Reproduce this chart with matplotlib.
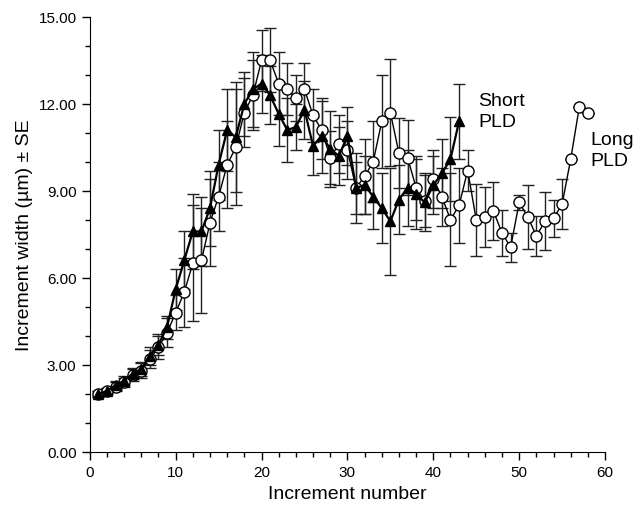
import numpy as np
import matplotlib.pyplot as plt
from matplotlib.ticker import MultipleLocator, FormatStrFormatter

plt.rcParams['font.family'] = ['Liberation Sans', 'DejaVu Sans']

# Short PLD (filled triangles), increments 1-43
x_short = np.arange(1, 44)
short_w = [2.0, 2.1, 2.3, 2.45, 2.7, 2.85, 3.3, 3.7, 4.3, 5.6,
           6.6, 7.6, 7.6, 8.4, 9.9, 11.1, 10.85, 12.0, 12.5, 12.7,
           12.3, 11.65, 11.1, 11.2, 11.8, 10.55, 10.9, 10.45, 10.2, 10.9,
           9.1, 9.2, 8.8, 8.4, 7.95, 8.7, 9.1, 8.9, 8.6, 9.2,
           9.6, 10.1, 11.4]
short_se = [0.1, 0.1, 0.15, 0.15, 0.2, 0.25, 0.3, 0.35, 0.4, 0.7,
            1.0, 1.3, 1.2, 1.3, 1.2, 1.4, 1.9, 1.1, 1.3, 1.0,
            1.0, 1.1, 1.1, 0.8, 1.0, 1.0, 1.3, 1.3, 1.0, 1.0,
            0.9, 1.0, 1.1, 1.2, 1.85, 1.2, 1.3, 1.2, 1.0, 1.0,
            1.2, 1.45, 1.3]

# Long PLD (open circles), increments 1-58
x_long = np.arange(1, 59)
long_w = [2.0, 2.1, 2.25, 2.4, 2.65, 2.8, 3.2, 3.6, 4.1, 4.8,
          5.5, 6.5, 6.6, 7.9, 8.8, 9.9, 10.5, 11.7, 12.3, 13.5,
          13.5, 12.7, 12.5, 12.2, 12.5, 11.6, 11.1, 10.15, 10.6, 10.4,
          9.1, 9.5, 10.0, 11.4, 11.7, 10.3, 10.15, 9.1, 8.65, 9.4,
          8.8, 8.0, 8.5, 9.7, 8.0, 8.1, 8.3, 7.55, 7.05, 8.6,
          8.1, 7.45, 7.95, 8.05, 8.55, 10.1, 11.9, 11.7]
long_se = [0.1, 0.1, 0.15, 0.15, 0.2, 0.25, 0.3, 0.4, 0.5, 0.6,
           1.2, 2.0, 1.8, 1.5, 1.2, 1.5, 2.0, 1.2, 1.2, 1.05,
           1.1, 1.1, 0.9, 0.8, 0.9, 0.9, 1.0, 0.9, 1.0, 1.0,
           1.2, 1.3, 1.4, 1.6, 1.85, 1.2, 1.3, 1.1, 0.9, 1.0,
           1.0, 1.6, 1.3, 0.7, 1.25, 1.05, 1.0, 0.8, 0.5, 0.25,
           1.1, 0.7, 1.0, 0.65, 0.85, 0, 0, 0]

fig = plt.figure(figsize=(6.41, 5.10), dpi=100)
ax = fig.add_axes([0.140, 0.112, 0.804, 0.853])

ax.errorbar(x_long, long_w, yerr=long_se, fmt='-o', color='black',
            mfc='white', mec='black', ms=8, mew=1.0, lw=1.0,
            ecolor='#222222', elinewidth=1.0, capsize=4, capthick=1.0)
ax.errorbar(x_short, short_w, yerr=short_se, fmt='-^', color='black',
            mfc='black', mec='black', ms=6.5, lw=1.6,
            ecolor='#222222', elinewidth=1.0, capsize=4, capthick=1.0)

ax.text(45.2, 11.75, 'Short\nPLD', fontsize=14, va='center', ha='left',
        linespacing=1.3)
ax.text(58.3, 10.4, 'Long\nPLD', fontsize=14, va='center', ha='left',
        linespacing=1.3, clip_on=False)

ax.set_xlim(0, 60)
ax.set_ylim(0, 15)
ax.xaxis.set_major_locator(MultipleLocator(10))
ax.xaxis.set_minor_locator(MultipleLocator(2))
ax.yaxis.set_major_locator(MultipleLocator(3))
ax.yaxis.set_minor_locator(MultipleLocator(1))
ax.yaxis.set_major_formatter(FormatStrFormatter('%.2f'))
ax.tick_params(which='major', length=6, width=1, labelsize=11, direction='out')
ax.tick_params(which='minor', length=3.5, width=1, direction='out')
ax.spines['top'].set_visible(False)
ax.spines['right'].set_visible(False)

ax.set_xlabel('Increment number', fontsize=14)
ax.set_ylabel('Increment width (µm) ± SE', fontsize=14)

fig.savefig('out.png', dpi=100)
